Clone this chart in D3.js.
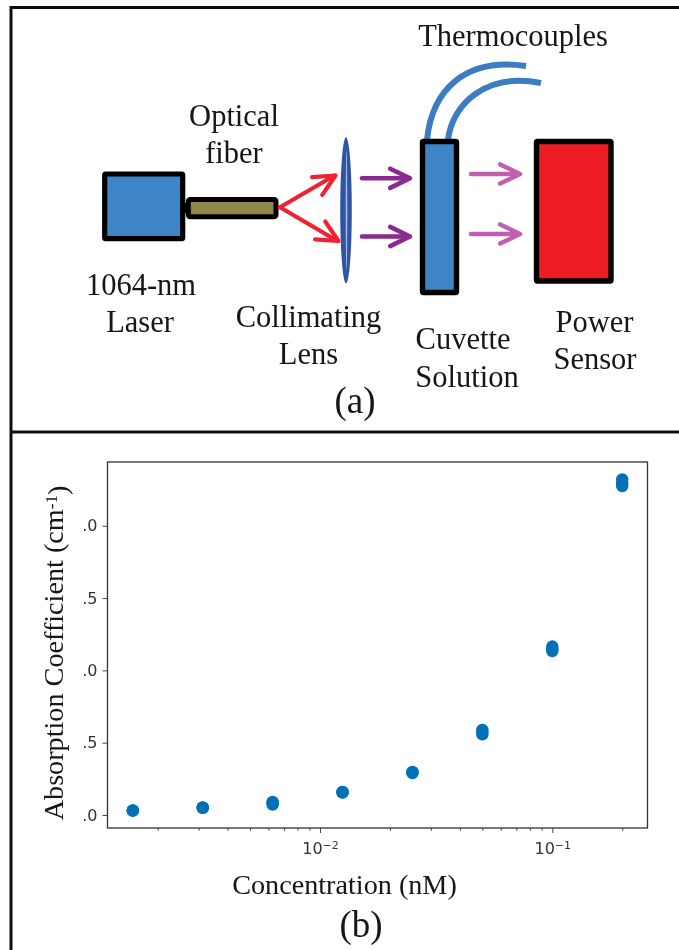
<!DOCTYPE html>
<html>
<head>
<meta charset="utf-8">
<script src="https://cdn.jsdelivr.net/npm/d3@7"></script>
<style>
  html, body { margin: 0; padding: 0; background: #fff; }
  svg { display: block; }
  .serif { font-family: "Liberation Serif", serif; fill: #141414; }
  .tick text { font-family: "DejaVu Sans", sans-serif; font-size: 16px; fill: #333; }
</style>
</head>
<body>
<svg id="chart" width="679" height="950"></svg>
<script>
var concentration = [0.0015625, 0.003125, 0.00625, 0.0125, 0.025, 0.05, 0.1, 0.2];
var absorptionLow  = [0.03, 0.05, 0.072, 0.155, 0.29, 0.558, 1.134, 2.275];
var absorptionMid  = [0.03, 0.05, 0.08, 0.157, 0.294, 0.572, 1.15, 2.295];
var absorptionHigh = [0.032, 0.052, 0.09, 0.16, 0.298, 0.588, 1.165, 2.32];

var yTickValues = [0, 0.5, 1, 1.5, 2];
var yTickLabels = [".0", ".5", ".0", ".5", ".0"];   // the left digit is cut off in the original
var xMajorTicks = [0.01, 0.1];
var xMajorExponents = ["\u22122", "\u22121"];
var xMinorTicks = [0.002, 0.003, 0.004, 0.005, 0.006, 0.007, 0.008, 0.009,
                   0.02, 0.03, 0.04, 0.05, 0.06, 0.07, 0.08, 0.09, 0.2];

var svg = d3.select("#chart");

// the reference is a soft, upscaled scan
var defs = svg.append("defs");
defs.append("filter").attr("id", "soft")
    .attr("x", "-2%").attr("y", "-2%").attr("width", "104%").attr("height", "104%")
    .append("feGaussianBlur").attr("stdDeviation", 0.45);

var root = svg.append("g").attr("filter", "url(#soft)");

/* outer frame of the figure */
var frame = root.append("g").attr("stroke", "#111").attr("fill", "none");
frame.append("path").attr("d", "M679,7.5H11V950").attr("stroke-width", 3);
frame.append("line").attr("x1", 11).attr("x2", 679).attr("y1", 432).attr("y2", 432).attr("stroke-width", 3);

/* ---------- panel (a): the setup ---------- */
var a = root.append("g");

function box(x0, y0, x1, y1, fill, width, rx) {
    a.append("rect")
        .attr("x", x0).attr("y", y0)
        .attr("width", x1 - x0).attr("height", y1 - y0)
        .attr("rx", rx || 1)
        .attr("fill", fill)
        .attr("stroke", "#000")
        .attr("stroke-width", width);
}

function arrow(x0, y0, x1, y1, color, head, width) {
    var ang = Math.atan2(y1 - y0, x1 - x0);
    var g = a.append("g").attr("stroke", color).attr("stroke-width", width)
        .attr("fill", "none").attr("stroke-linecap", "round").attr("stroke-linejoin", "round");
    g.append("line").attr("x1", x0).attr("y1", y0).attr("x2", x1 - 1).attr("y2", y1);
    var pts = [ang + 2.69, ang - 2.69].map(function(t) {
        return [x1 + head * Math.cos(t), y1 + head * Math.sin(t)];
    });
    g.append("path").attr("d", "M" + pts[0] + "L" + x1 + "," + y1 + "L" + pts[1]);
}

// thermocouple wires go under the cuvette
a.append("path").attr("d", "M427,140C432,90 465,57 526,66")
    .attr("fill", "none").attr("stroke", "#3b7dc0").attr("stroke-width", 6);
a.append("path").attr("d", "M448,140C452,105 485,72 541,83")
    .attr("fill", "none").attr("stroke", "#3b7dc0").attr("stroke-width", 6);

box(104.7, 174, 182.7, 238.7, "#3e85c6", 5.2);
box(188.3, 199.5, 276, 216.8, "#8f8648", 5, 2);
a.append("rect").attr("x", 183).attr("y", 203).attr("width", 5).attr("height", 10).attr("fill", "#000");
box(422.5, 141.5, 456.5, 292.5, "#3e85c6", 5.4);
box(536.5, 141.5, 611, 281, "#ed1c24", 5.4);

// lens
a.append("ellipse").attr("cx", 346).attr("cy", 210.3).attr("rx", 5.8).attr("ry", 73).attr("fill", "#2f55a5");
a.append("ellipse").attr("cx", 346.5).attr("cy", 210.3).attr("rx", 0.8).attr("ry", 60).attr("fill", "#a9bbe0");

arrow(280, 207.3, 335.5, 175.5, "#ee2330", 23.5, 4.2);
arrow(280, 207.3, 338.5, 241, "#ee2330", 23.5, 4.2);
arrow(362, 178.3, 410, 178.3, "#8a2a90", 22, 4.6);
arrow(362, 236.5, 410, 236.5, "#8a2a90", 22, 4.6);
arrow(471, 174, 520, 174, "#c05fb0", 22, 4.4);
arrow(471, 234, 520, 234, "#c05fb0", 22, 4.4);

var labels = [
    ["Thermocouples", 513, 46, 30.5],
    ["Optical", 234, 126, 30.5],
    ["fiber", 234, 163, 30.5],
    ["1064-nm", 141, 295, 30.5],
    ["Laser", 140, 332, 30.5],
    ["Collimating", 308.5, 327, 30.5],
    ["Lens", 308.5, 364, 30.5],
    ["Cuvette", 463, 349, 30.5],
    ["Solution", 467, 387, 30.5],
    ["Power", 594.5, 332, 30.5],
    ["Sensor", 595, 369, 30.5],
    ["(a)", 355, 413, 37],
    ["(b)", 361, 937, 37]
];
root.selectAll("text.label")
    .data(labels)
    .enter()
    .append("text")
    .attr("class", "label serif")
    .attr("text-anchor", "middle")
    .attr("x", function(d) { return d[1]; })
    .attr("y", function(d) { return d[2]; })
    .attr("font-size", function(d) { return d[3]; })
    .text(function(d) { return d[0]; });

/* ---------- panel (b): the scatter ---------- */
var left = 107.5, right = 647.5, top_ = 462, bottom = 828;

var x = d3.scaleLog().domain([0.001216, 0.2570]).range([left, right]);
var y = d3.scaleLinear().domain([-0.09, 2.441]).range([bottom, top_]);

var plot = root.append("g");

var xAxis = d3.axisBottom(x)
    .tickValues(xMajorTicks)
    .tickSize(5)
    .tickPadding(5)
    .tickFormat(function() { return ""; });
var xGroup = plot.append("g").attr("transform", "translate(0," + bottom + ")").call(xAxis);
xGroup.selectAll(".tick text").each(function(d, i) {
    var t = d3.select(this);
    t.text("10").attr("dy", "1.0em");
    t.append("tspan").attr("dy", "-0.42em").attr("font-size", "11px").text(xMajorExponents[i]);
});

var xMinor = d3.axisBottom(x)
    .tickValues(xMinorTicks)
    .tickSize(2.8)
    .tickFormat(function() { return ""; });
plot.append("g").attr("transform", "translate(0," + bottom + ")").call(xMinor);

var yAxis = d3.axisLeft(y)
    .tickValues(yTickValues)
    .tickSize(5)
    .tickPadding(5)
    .tickFormat(function(d, i) { return yTickLabels[i]; });
plot.append("g").attr("transform", "translate(" + left + ",0)").call(yAxis);

plot.selectAll(".domain").remove();
plot.selectAll(".tick line").attr("stroke", "#333").attr("stroke-width", 0.9);

plot.append("rect")
    .attr("x", left).attr("y", top_)
    .attr("width", right - left).attr("height", bottom - top_)
    .attr("fill", "none").attr("stroke", "#333").attr("stroke-width", 1.3);

// one row per measurement
[absorptionLow, absorptionMid, absorptionHigh].forEach(function(series) {
    plot.append("g").selectAll("circle")
        .data(series)
        .enter()
        .append("circle")
        .attr("cx", function(d, i) { return x(concentration[i]); })
        .attr("cy", function(d) { return y(d); })
        .attr("r", 6.2)
        .attr("fill", "#0070b8");
});

plot.append("text")
    .attr("class", "serif")
    .attr("text-anchor", "middle")
    .attr("x", 344.5).attr("y", 894)
    .attr("font-size", 28.2)
    .text("Concentration (nM)");

var yLabel = plot.append("text")
    .attr("class", "serif")
    .attr("text-anchor", "middle")
    .attr("transform", "translate(63,653) rotate(-90)")
    .attr("font-size", 28.2)
    .text("Absorption Coefficient (cm");
yLabel.append("tspan").attr("dy", "-0.38em").attr("font-size", 17).text("-1");
yLabel.append("tspan").attr("dy", "0.38em").text(")");
</script>
</body>
</html>
